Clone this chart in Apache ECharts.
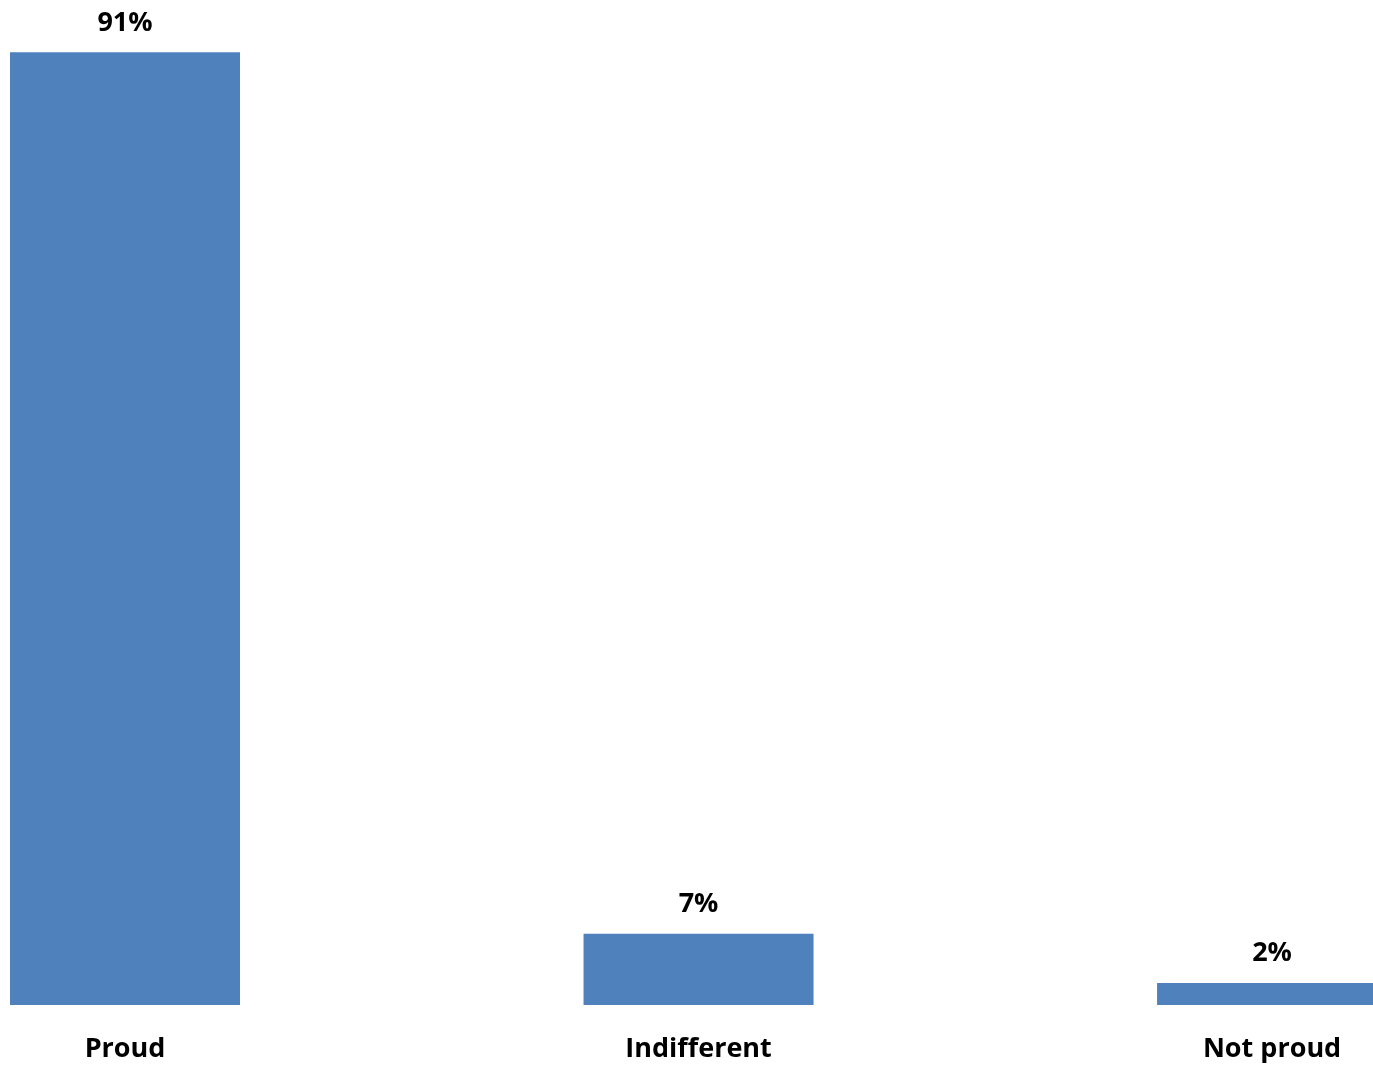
<!DOCTYPE html>
<html>
<head>
<meta charset="utf-8">
<script src="https://cdn.jsdelivr.net/npm/echarts@6/dist/echarts.min.js"></script>
<style>html,body{margin:0;padding:0;background:#fff;}#c{width:1373px;height:1067px;}</style>
</head>
<body>
<div id="c"></div>
<script>
const categories = ['Proud', 'Indifferent', 'Not proud'];
const values = [91, 6.8, 2.1];

const chart = echarts.init(document.getElementById('c'));
chart.setOption({
  animation: false,
  backgroundColor: '#ffffff',
  grid: { left: 0, right: 0, top: 0, bottom: 62, containLabel: false },
  xAxis: {
    type: 'value',
    min: -0.218,
    max: 2.176,
    splitLine: { show: false },
    axisLine: { show: false },
    axisTick: { show: false },
    axisLabel: {
      customValues: [0, 1, 2],
      formatter: v => categories[Math.round(v)],
      margin: 31,
      color: '#000',
      fontFamily: 'Open Sans',
      fontWeight: 'bold',
      fontSize: 27,
      showMinLabel: true,
      showMaxLabel: true,
      hideOverlap: false
    }
  },
  yAxis: {
    type: 'value',
    min: 0,
    max: 96,
    show: false,
    splitLine: { show: false }
  },
  series: [{
    type: 'bar',
    data: values.map((v, i) => [i, v]),
    barWidth: 230,
    itemStyle: { color: '#4F81BD' },
    label: {
      show: true,
      position: 'top',
      distance: 16,
      color: '#000',
      fontFamily: 'Open Sans',
      fontWeight: 'bold',
      fontSize: 27,
      formatter: p => Math.round(p.value[1]) + '%'
    }
  }]
});
</script>
</body>
</html>
